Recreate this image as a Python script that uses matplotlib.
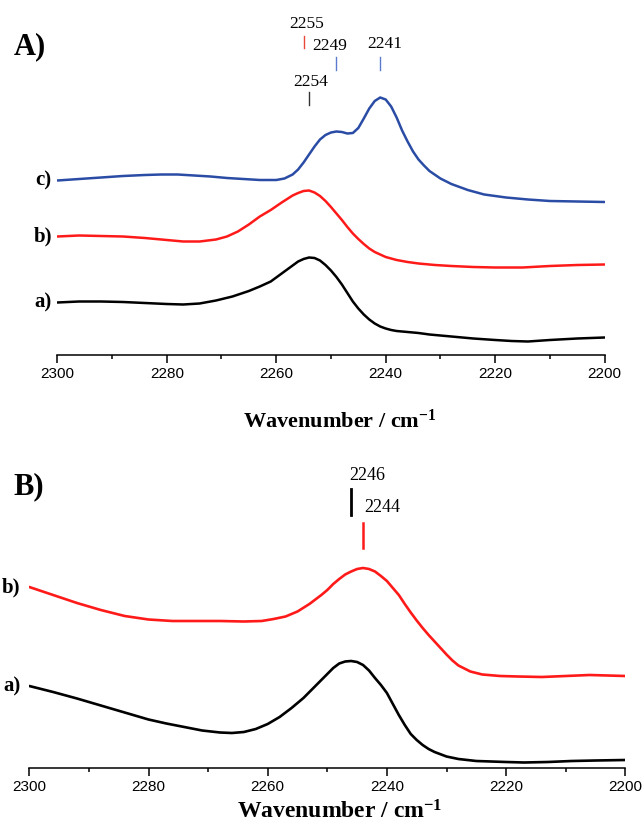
import matplotlib
matplotlib.use("Agg")
import matplotlib.pyplot as plt
from matplotlib.ticker import MultipleLocator

plt.rcParams["mathtext.default"] = "regular"

# ---- panel A data (arbitrary absorbance, stacked) ----
wn_a_a = [2300, 2296, 2292, 2288, 2284, 2280, 2277, 2274, 2271, 2268, 2265, 2263, 2261, 2259, 2257,
          2256, 2255, 2254, 2253, 2252, 2251, 2250, 2249, 2248, 2247, 2246, 2245, 2244, 2243, 2242,
          2241, 2240, 2239, 2238, 2236, 2234, 2232, 2230, 2227, 2224, 2220, 2217, 2214, 2210, 2205,
          2200]
abs_a_a = [0.52, 0.53, 0.53, 0.525, 0.515, 0.505, 0.50, 0.51, 0.54, 0.58, 0.635, 0.68, 0.73, 0.81, 0.89,
           0.93, 0.955, 0.97, 0.965, 0.94, 0.895, 0.84, 0.775, 0.70, 0.615, 0.53, 0.46, 0.40, 0.35, 0.31,
           0.28, 0.26, 0.245, 0.235, 0.225, 0.215, 0.20, 0.19, 0.175, 0.16, 0.145, 0.135, 0.13, 0.145, 0.16,
           0.17]

wn_a_b = [2300, 2296, 2292, 2288, 2284, 2280, 2277, 2274, 2271, 2269, 2267, 2265, 2263, 2261, 2259,
          2257, 2256, 2255, 2254, 2253, 2252, 2251, 2250, 2249, 2248, 2247, 2246, 2245, 2244, 2243,
          2242, 2241, 2240, 2238, 2236, 2234, 2231, 2228, 2224, 2220, 2215, 2210, 2205, 2200]
abs_a_b = [1.18, 1.19, 1.185, 1.18, 1.165, 1.145, 1.13, 1.13, 1.15, 1.18, 1.23, 1.30, 1.38, 1.445, 1.52,
           1.59, 1.615, 1.635, 1.64, 1.62, 1.585, 1.535, 1.475, 1.41, 1.345, 1.275, 1.21, 1.155, 1.105, 1.06,
           1.025, 1.00, 0.975, 0.945, 0.925, 0.91, 0.895, 0.885, 0.875, 0.87, 0.87, 0.885, 0.895, 0.90]

wn_a_c = [2300, 2296, 2292, 2288, 2284, 2281, 2278, 2275, 2272, 2269, 2266, 2263, 2260, 2258.5, 2257,
          2256, 2255, 2254, 2253, 2252, 2251, 2250, 2249, 2248, 2247, 2246, 2245, 2244, 2243, 2242,
          2241, 2240, 2239, 2238, 2237, 2236, 2235, 2234, 2233, 2232, 2230, 2228, 2225, 2222, 2218,
          2214, 2210, 2205, 2200]
abs_a_c = [1.74, 1.755, 1.77, 1.785, 1.795, 1.80, 1.80, 1.79, 1.78, 1.765, 1.755, 1.745, 1.745, 1.76, 1.80,
           1.85, 1.92, 2.00, 2.08, 2.15, 2.195, 2.22, 2.23, 2.225, 2.21, 2.215, 2.265, 2.36, 2.46, 2.535,
           2.57, 2.55, 2.48, 2.37, 2.24, 2.13, 2.03, 1.95, 1.89, 1.835, 1.76, 1.705, 1.645, 1.60, 1.57,
           1.55, 1.535, 1.53, 1.525]

# ---- panel B data ----
wn_b_a = [2300, 2296, 2292, 2288, 2284, 2280, 2277, 2274, 2271, 2268, 2266, 2264, 2262, 2260, 2258,
          2256, 2254, 2252, 2250, 2249, 2248, 2247, 2246, 2245, 2244, 2243, 2242, 2241, 2240, 2239,
          2238, 2237, 2236, 2235, 2234, 2233, 2232, 2230, 2228, 2225, 2220, 2217, 2213, 2209, 2205,
          2200]
abs_b_a = [0.82, 0.76, 0.695, 0.625, 0.555, 0.485, 0.445, 0.41, 0.375, 0.355, 0.35, 0.36, 0.39, 0.44, 0.51,
           0.60, 0.70, 0.82, 0.94, 1.00, 1.045, 1.065, 1.07, 1.06, 1.03, 0.975, 0.90, 0.83, 0.75, 0.64,
           0.53, 0.43, 0.34, 0.28, 0.23, 0.19, 0.16, 0.115, 0.09, 0.07, 0.06, 0.055, 0.06, 0.07, 0.075,
           0.08]

wn_b_b = [2300, 2296, 2292, 2288, 2284, 2280, 2276, 2272, 2268, 2264, 2261, 2259, 2257, 2255, 2253,
          2251, 2250, 2249, 2248, 2247, 2246, 2245, 2244, 2243, 2242, 2241, 2240, 2239, 2238, 2237,
          2236, 2235, 2234, 2233, 2232, 2231, 2230, 2229, 2228, 2226, 2224, 2221, 2218, 2214, 2210,
          2206, 2203, 2200]
abs_b_b = [1.81, 1.73, 1.65, 1.58, 1.52, 1.485, 1.47, 1.47, 1.47, 1.465, 1.47, 1.49, 1.515, 1.565, 1.64,
           1.73, 1.78, 1.84, 1.89, 1.935, 1.965, 1.99, 2.00, 1.99, 1.965, 1.92, 1.87, 1.80, 1.73, 1.64,
           1.555, 1.475, 1.40, 1.33, 1.265, 1.20, 1.135, 1.075, 1.025, 0.965, 0.935, 0.92, 0.915, 0.91, 0.92,
           0.93, 0.925, 0.92]

BLACK = "#000000"
RED = "#FF1A1A"
BLUE = "#2A4CA5"

SERIF = "Liberation Serif"
SANS = "Liberation Sans"

fig = plt.figure(figsize=(6.43, 8.26), dpi=100)
fig.patch.set_facecolor("white")

W, H = 643, 826
ax_a = fig.add_axes([57.3 / W, 1 - 354.5 / H, 547.3 / W, 340 / H])
ax_b = fig.add_axes([29.3 / W, 1 - 768 / H, 596 / W, 328 / H])


def style(ax, ylim):
    ax.set_xlim(2300, 2200)
    ax.set_ylim(*ylim)
    for s in ["top", "right", "left"]:
        ax.spines[s].set_visible(False)
    ax.spines["bottom"].set_linewidth(1.1)
    ax.set_yticks([])
    ax.xaxis.set_major_locator(MultipleLocator(20))
    ax.xaxis.set_minor_locator(MultipleLocator(10))
    ax.tick_params(axis="x", which="major", direction="out", length=5.8, width=1.1, pad=3)
    ax.tick_params(axis="x", which="minor", direction="out", length=2.9, width=1.1)
    for lab in ax.get_xticklabels():
        lab.set_fontfamily(SANS)
        lab.set_fontsize(11)
    ax.patch.set_alpha(0)


# ---- panel A ----
style(ax_a, (0, 3.4))
for wn, ab, col, lab in [(wn_a_a, abs_a_a, BLACK, "a)"),
                         (wn_a_b, abs_a_b, RED, "b)"),
                         (wn_a_c, abs_a_c, BLUE, "c)")]:
    ax_a.plot(wn, ab, color=col, lw=1.8, solid_capstyle="round", solid_joinstyle="round")
    ax_a.annotate(lab, xy=(wn[0], ab[0]), xytext=(-4, 0), textcoords="offset points",
                  ha="right", va="center", fontsize=15, fontweight="bold", family=SERIF,
                  annotation_clip=False)

# peak markers panel A
ax_a.plot([2255, 2255], [3.07, 3.19], color="#E8483A", lw=1)
ax_a.text(2254.4, 3.30, "2255", ha="center", va="center", fontsize=12.5, family=SERIF)
ax_a.plot([2249, 2249], [2.85, 2.98], color="#5B7BD0", lw=1)
ax_a.text(2250.3, 3.08, "2249", ha="center", va="center", fontsize=12.5, family=SERIF)
ax_a.plot([2241, 2241], [2.85, 2.98], color="#5B7BD0", lw=1)
ax_a.text(2240.1, 3.10, "2241", ha="center", va="center", fontsize=12.5, family=SERIF)
ax_a.plot([2254, 2254], [2.49, 2.63], color="#333333", lw=1)
ax_a.text(2253.7, 2.73, "2254", ha="center", va="center", fontsize=12.5, family=SERIF)

fig.text(30 / W, 1 - 47 / H, "A)", ha="center", va="center", fontsize=22,
         fontweight="bold", family=SERIF)
fig.text(340 / W, 1 - 421 / H, "Wavenumber / cm$^{-1}$", ha="center", va="center",
         fontsize=16, fontweight="bold", family=SERIF)

# ---- panel B ----
style(ax_b, (0, 3.28))
for wn, ab, col, lab in [(wn_b_a, abs_b_a, BLACK, "a)"),
                         (wn_b_b, abs_b_b, RED, "b)")]:
    ax_b.plot(wn, ab, color=col, lw=1.9, solid_capstyle="round", solid_joinstyle="round")
    ax_b.annotate(lab, xy=(wn[0], ab[0]), xytext=(-6.5, 0), textcoords="offset points",
                  ha="right", va="center", fontsize=15, fontweight="bold", family=SERIF,
                  annotation_clip=False)

ax_b.plot([2246, 2246], [2.53, 2.79], color=BLACK, lw=2)
ax_b.text(2243.3, 2.93, "2246", ha="center", va="center", fontsize=13, family=SERIF)
ax_b.plot([2244, 2244], [2.20, 2.45], color=RED, lw=1.8)
ax_b.text(2240.8, 2.60, "2244", ha="center", va="center", fontsize=13, family=SERIF)

fig.text(29 / W, 1 - 487 / H, "B)", ha="center", va="center", fontsize=22,
         fontweight="bold", family=SERIF)
fig.text(340 / W, 1 - 812 / H, "Wavenumber / cm$^{-1}$", ha="center", va="center",
         fontsize=17, fontweight="bold", family=SERIF)

fig.savefig("out.png", dpi=100, facecolor="white")
